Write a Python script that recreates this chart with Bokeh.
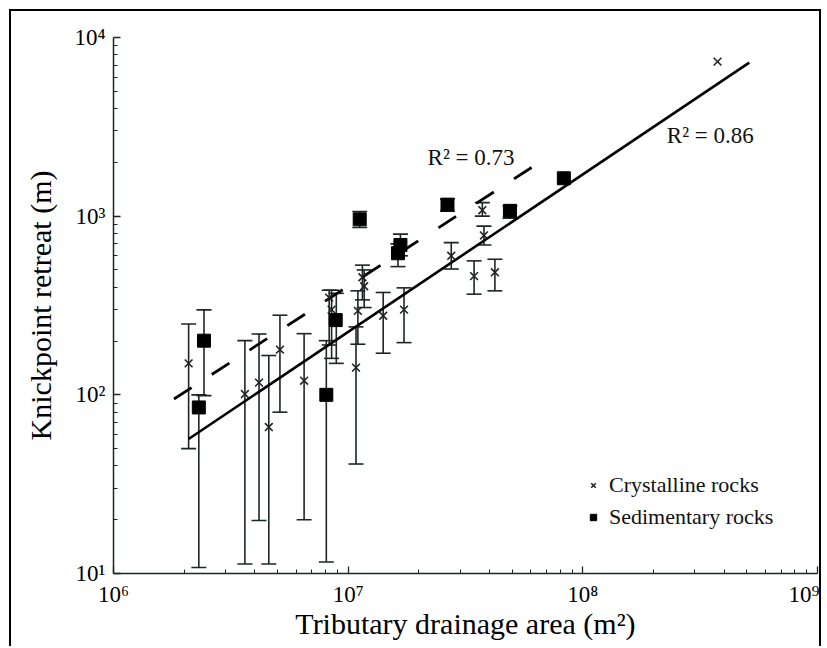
from bokeh.plotting import figure
from bokeh.models import (Range1d, FixedTicker, CustomJSTickFormatter, Whisker, TeeHead,
                          ColumnDataSource, Legend, LegendItem, Label)
from bokeh.embed import file_html
from bokeh.resources import INLINE

# ---------------- data ----------------
cryst_area = [2.09e6, 3.63e6, 4.17e6, 4.59e6, 5.12e6, 6.49e6, 8.3e6, 8.5e6, 8.9e6,
              1.08e7, 1.1e7, 1.15e7, 1.17e7, 1.41e7, 1.73e7, 2.75e7, 3.44e7, 4.22e7,
              3.79e7, 3.73e7, 3.75e8]
cryst_retreat = [150, 101, 117, 66, 179, 120, 350, 300, 255,
                 142, 295, 455, 405, 277, 300, 600, 462, 485,
                 780, 1080, 7330]
cryst_low = [50, 11.3, 19.8, 11.3, 80, 20, 190, 160, 150,
             41, 192, 340, 308, 171, 196, 506, 366, 382,
             690, 1000, 7330]
cryst_high = [249, 201, 219, 166, 279, 220, 385, 385, 370,
              240, 382, 532, 500, 374, 397, 711, 562, 574,
              880, 1190, 7330]

sed_area = [2.31e6, 2.43e6, 8.07e6, 8.85e6, 1.12e7, 1.63e7, 1.67e7, 2.65e7, 4.89e7, 8.3e7]
sed_retreat = [85, 201, 100, 262, 960, 620, 690, 1160, 1071, 1630]
sed_low = [10.8, 99, 11.6, 262, 864, 522, 600, 1065, 973, 1630]
sed_high = [100, 299, 201, 262, 1062, 700, 793, 1250, 1143, 1630]

# regression lines (end points)
solid_fit_x = [2.09e6, 5.12e8]
solid_fit_y = [56.6, 7230]
dash_fit_x = [1.81e6, 6.19e7]
dash_fit_y = [94.8, 1909]

r2_labels = ["R\u00b2 = 0.73", "R\u00b2 = 0.86"]
r2_x = [2.18e7, 2.28e8]
r2_y = [2120, 2810]

x_tick_values = [1e6, 1e7, 1e8, 1e9]
x_tick_labels = ["10\u2076", "10\u2077", "10\u2078", "10\u2079"]
y_tick_values = [1e1, 1e2, 1e3, 1e4]
y_tick_labels = ["10\u00b9", "10\u00b2", "10\u00b3", "10\u2074"]

x_label = "Tributary drainage area (m\u00b2)"
y_label = "Knickpoint retreat (m)"
series_names = ["Crystalline rocks", "Sedimentary rocks"]

FONT = "Liberation Serif"
INK = "#1b2727"

# ---------------- figure ----------------
p = figure(width=812, height=637, x_axis_type="log", y_axis_type="log",
           x_range=Range1d(1e6, 1e9), y_range=Range1d(10, 1e4),
           output_backend="svg", toolbar_location=None,
           min_border_left=102, min_border_right=6, min_border_top=26, min_border_bottom=75)
p.outline_line_color = None
p.xgrid.grid_line_color = None
p.ygrid.grid_line_color = None
p.background_fill_color = "white"
p.border_fill_color = "white"
p.styles = {"border-left": "2px solid black", "border-top": "2px solid black",
            "border-right": "2px solid black", "margin-left": "9px", "margin-top": "9px"}


def minor_for(ticks):
    out = []
    for t in ticks[:-1]:
        out += [m * t for m in range(2, 10)]
    return out


fmt_code = """
const i = tvals.findIndex(t => Math.abs(Math.log10(t) - Math.log10(tick)) < 1e-6);
return i >= 0 ? tlabels[i] : '';
"""
p.xaxis[0].ticker = FixedTicker(ticks=x_tick_values, minor_ticks=minor_for(x_tick_values))
p.yaxis[0].ticker = FixedTicker(ticks=y_tick_values, minor_ticks=minor_for(y_tick_values))
p.xaxis[0].formatter = CustomJSTickFormatter(args=dict(tvals=x_tick_values, tlabels=x_tick_labels), code=fmt_code)
p.yaxis[0].formatter = CustomJSTickFormatter(args=dict(tvals=y_tick_values, tlabels=y_tick_labels), code=fmt_code)

for ax in (p.xaxis[0], p.yaxis[0]):
    ax.axis_line_color = INK
    ax.axis_line_width = 1.5
    ax.major_tick_line_color = INK
    ax.minor_tick_line_color = INK
    ax.major_tick_line_width = 1.3
    ax.minor_tick_line_width = 1.0
    ax.major_tick_in = 7
    ax.major_tick_out = 0
    ax.minor_tick_in = 4
    ax.minor_tick_out = 0
    ax.major_label_text_font = FONT
    ax.major_label_text_font_size = "23px"
    ax.major_label_text_color = "black"
    ax.major_label_standoff = 8
    ax.axis_label_text_font = FONT
    ax.axis_label_text_font_size = "30px"
    ax.axis_label_text_font_style = "normal"
    ax.axis_label_text_color = "black"

p.xaxis[0].axis_label = x_label
p.yaxis[0].axis_label = y_label
p.xaxis[0].axis_label_standoff = -3
p.yaxis[0].axis_label_standoff = 14

# ---------------- error bars ----------------
def whisker_source(xs, lo, hi):
    keep = [i for i in range(len(xs)) if hi[i] > lo[i]]
    return ColumnDataSource(dict(x=[xs[i] for i in keep],
                                 lower=[lo[i] for i in keep],
                                 upper=[hi[i] for i in keep]))


for xs, lo, hi in ((cryst_area, cryst_low, cryst_high), (sed_area, sed_low, sed_high)):
    src = whisker_source(xs, lo, hi)
    w = Whisker(source=src, base="x", lower="lower", upper="upper", dimension="height",
                line_color=INK, line_width=1.6,
                upper_head=TeeHead(size=15, line_color=INK, line_width=1.6),
                lower_head=TeeHead(size=15, line_color=INK, line_width=1.6))
    p.add_layout(w)

# ---------------- regression lines ----------------
p.line(solid_fit_x, solid_fit_y, line_color="black", line_width=2.6)
p.line(dash_fit_x, dash_fit_y, line_color="black", line_width=2.8, line_dash="21 24")

# ---------------- points ----------------
cr = p.scatter(cryst_area, cryst_retreat, marker="x", size=11, line_color="#222222", line_width=1.6)
sr = p.scatter(sed_area, sed_retreat, marker="square", size=13, fill_color="black", line_color="black")

# ---------------- R^2 labels ----------------
for t, x, y in zip(r2_labels, r2_x, r2_y):
    p.add_layout(Label(x=x, y=y, text=t, text_font=FONT, text_font_size="23px",
                       text_color="#111111", text_baseline="alphabetic", text_align="left"))

# ---------------- legend ----------------
legend = Legend(items=[LegendItem(label=series_names[0], renderers=[cr]),
                       LegendItem(label=series_names[1], renderers=[sr])],
                location=(472, 43), border_line_color=None, background_fill_alpha=0,
                label_text_font=FONT, label_text_font_size="22px", label_text_color="#111111",
                glyph_width=16, glyph_height=26, label_height=26, spacing=6,
                padding=0, margin=0, label_standoff=8)
p.add_layout(legend)

open("out.html", "w").write(file_html(p, INLINE))
